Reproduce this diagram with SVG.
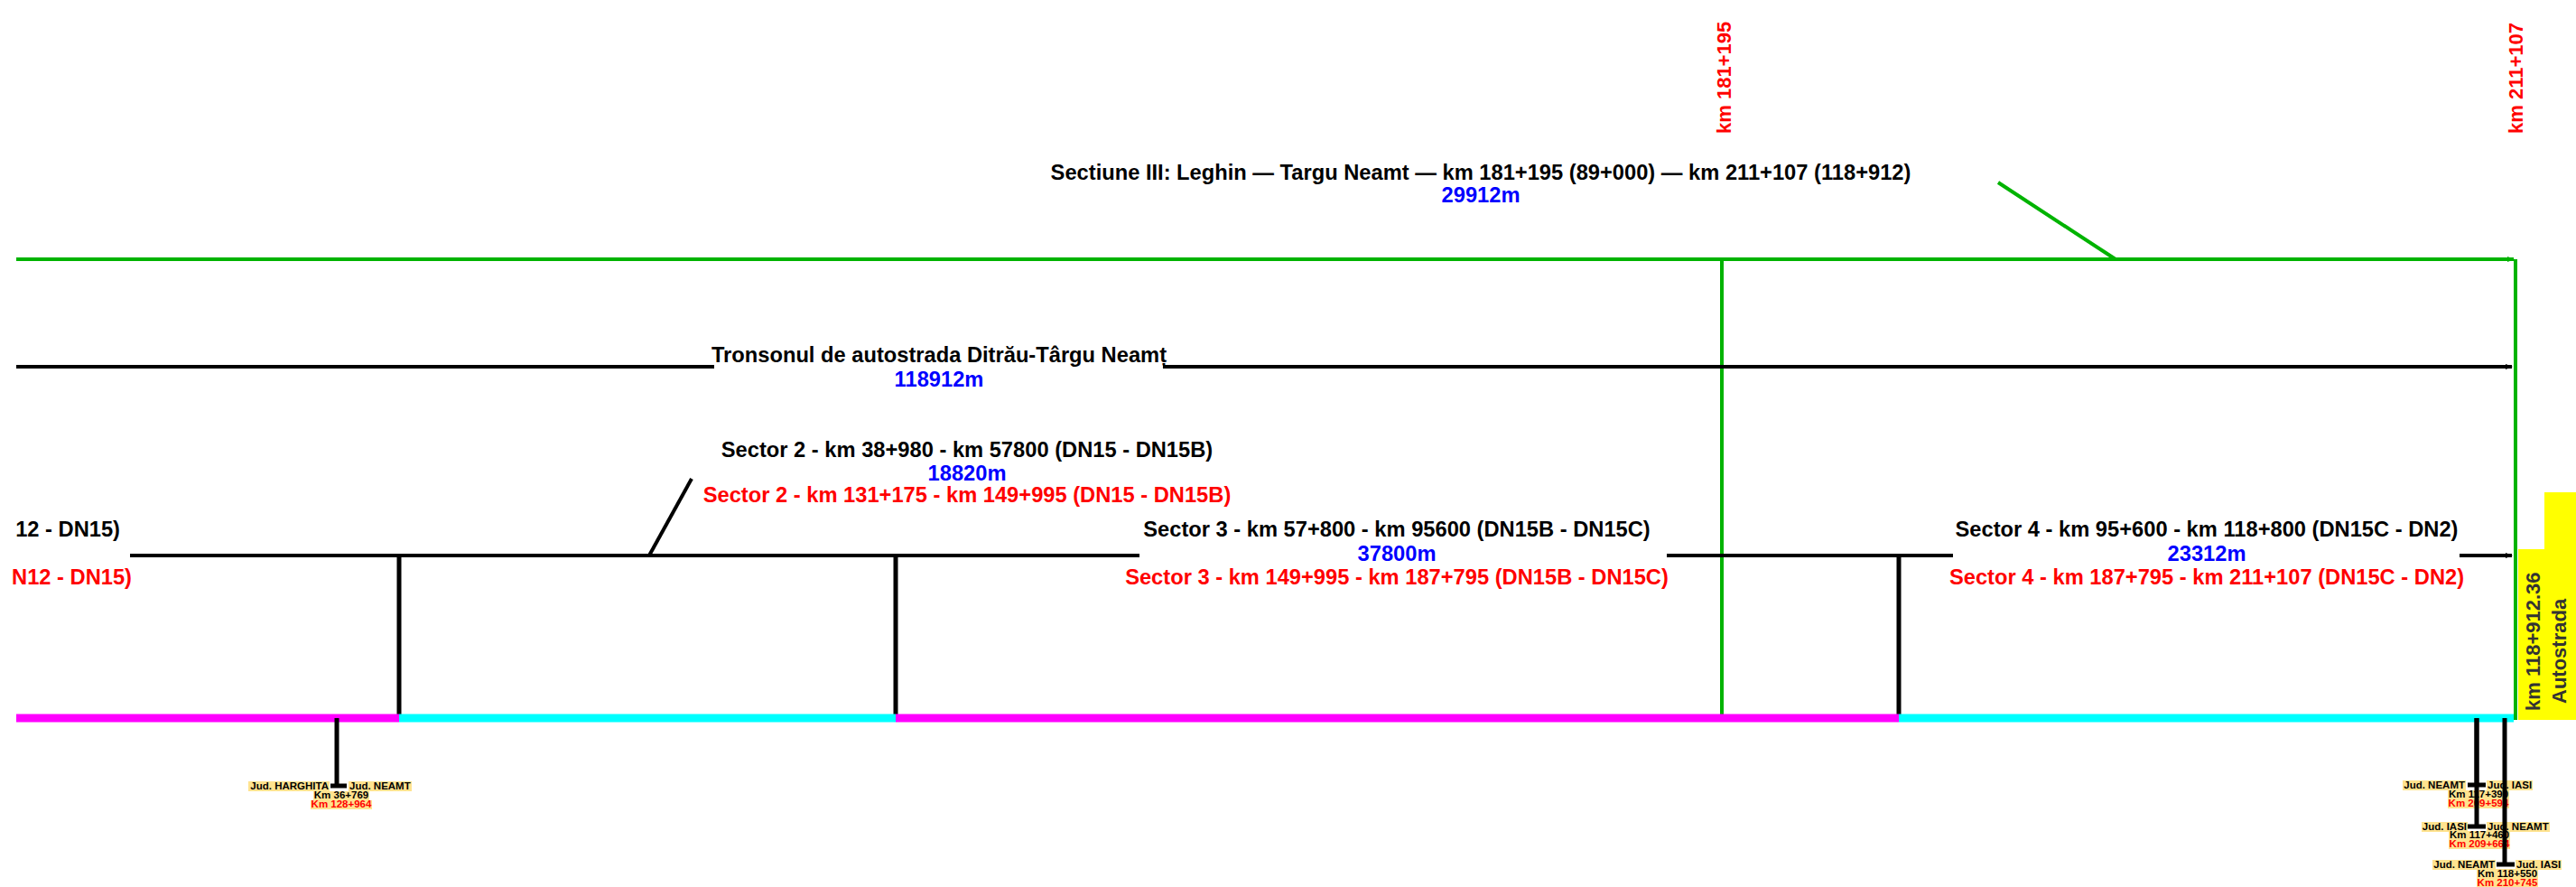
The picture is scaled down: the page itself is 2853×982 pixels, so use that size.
<svg xmlns="http://www.w3.org/2000/svg" width="2853" height="982" viewBox="0 0 2853 982">
<style>
.t{font-family:"Liberation Sans",Arial,sans-serif;font-weight:bold;font-size:23.7px;text-anchor:middle}
.k{fill:#000}.b{fill:#0000FF}.r{fill:#FF0000}
.km{font-family:"Liberation Sans",Arial,sans-serif;font-weight:bold;font-size:22px;fill:#FF0000}
.y{font-family:"Liberation Sans",Arial,sans-serif;font-weight:bold;font-size:22px;fill:#333}
.s{font-family:"Liberation Sans",Arial,sans-serif;font-weight:bold;font-size:11.5px}
.hl{fill:#FFE38F}
.g{stroke:#00B300;stroke-width:4;fill:none}
.bl{stroke:#000;stroke-width:4;fill:none}
.v{stroke:#000;stroke-width:5;fill:none}
</style>
<defs>
<marker id="ag" markerWidth="8" markerHeight="8" refX="7" refY="4" orient="auto" markerUnits="userSpaceOnUse"><path d="M0,1 L8,4 L0,7 z" fill="#00B300"/></marker>
<marker id="ak" markerWidth="8" markerHeight="8" refX="7" refY="4" orient="auto" markerUnits="userSpaceOnUse"><path d="M0,1 L8,4 L0,7 z" fill="#000"/></marker>
</defs>
<rect width="2853" height="982" fill="#fff"/>
<g id="connectors">
<path class="g" d="M18,287 H2784" marker-end="url(#ag)"/>
<path class="g" d="M1907,287 V795"/>
<path class="g" d="M2786,287 V797"/>
<path class="g" d="M2213,202 L2343,287"/>
<path class="bl" d="M18,406 H791"/>
<path class="bl" d="M1288,406 H2782" marker-end="url(#ak)"/>
<path class="bl" d="M144,615 H1262"/>
<path class="bl" d="M1846,615 H2163"/>
<path class="bl" d="M2724,615 H2782" marker-end="url(#ak)"/>
<path class="bl" d="M719,615 L766,530"/>
<path class="v" d="M442,615 V795"/>
<path class="v" d="M992,615 V795"/>
<path class="v" d="M2103,615 V795"/>
</g>
<g id="roadline">
<path d="M18,795 H442" stroke="#FF00FF" stroke-width="9"/>
<path d="M442,795 H992" stroke="#00FFFF" stroke-width="9"/>
<path d="M992,795 H2103" stroke="#FF00FF" stroke-width="9"/>
<path d="M2103,795 H2784" stroke="#00FFFF" stroke-width="9"/>
</g>
<g id="km181"><text class="km" transform="translate(1917,148) rotate(-90)">km 181+195</text></g>
<g id="km211"><text class="km" transform="translate(2794,148) rotate(-90)">km 211+107</text></g>
<g id="sectiune3">
<text class="t k" x="1640" y="199">Sectiune III: Leghin — Targu Neamt — km 181+195 (89+000) — km 211+107 (118+912)</text>
<text class="t b" x="1640" y="224">29912m</text>
</g>
<g id="tronson">
<text class="t k" x="1040" y="401">Tronsonul de autostrada Ditrău-Târgu Neamț</text>
<text class="t b" x="1040" y="428">118912m</text>
</g>
<g id="sector1">
<text class="t k" x="133" y="594" style="text-anchor:end">12 - DN15)</text>
<text class="t r" x="146" y="647" style="text-anchor:end">N12 - DN15)</text>
</g>
<g id="sector2">
<text class="t k" x="1071" y="506">Sector 2 - km 38+980 - km 57800 (DN15 - DN15B)</text>
<text class="t b" x="1071" y="532">18820m</text>
<text class="t r" x="1071" y="556">Sector 2 - km 131+175 - km 149+995 (DN15 - DN15B)</text>
</g>
<g id="sector3">
<text class="t k" x="1547" y="594">Sector 3 - km 57+800 - km 95600 (DN15B - DN15C)</text>
<text class="t b" x="1547" y="621">37800m</text>
<text class="t r" x="1547" y="647">Sector 3 - km 149+995 - km 187+795 (DN15B - DN15C)</text>
</g>
<g id="sector4">
<text class="t k" x="2444" y="594">Sector 4 - km 95+600 - km 118+800 (DN15C - DN2)</text>
<text class="t b" x="2444" y="621">23312m</text>
<text class="t r" x="2444" y="647">Sector 4 - km 187+795 - km 211+107 (DN15C - DN2)</text>
</g>
<g id="endlabel">
<rect x="2789" y="608" width="30" height="189" fill="#FFFF00"/>
<rect x="2818" y="545" width="35" height="252" fill="#FFFF00"/>
<text class="y" transform="translate(2813,787) rotate(-90)">km 118+912.36</text>
<text class="y" transform="translate(2842,779) rotate(-90)">Autostrada</text>
</g>
<g id="border1">
<path class="v" d="M373,795 V870 M366,870 H384"/>
<rect class="hl" x="275" y="865" width="90" height="11"/>
<rect class="hl" x="386" y="865" width="70" height="11"/>
<rect class="hl" x="347" y="876" width="62" height="10"/>
<rect class="hl" x="344" y="886" width="68" height="10"/>
<text class="s k" x="364" y="874" text-anchor="end">Jud. HARGHITA</text>
<text class="s k" x="387" y="874">Jud. NEAMT</text>
<text class="s k" x="378" y="884" text-anchor="middle">Km 36+769</text>
<text class="s r" x="378" y="894" text-anchor="middle">Km 128+964</text>
</g>
<g id="border2">
<path class="v" d="M2743,795 V869 M2733,869 H2753"/>
<rect class="hl" x="2661" y="864" width="70" height="11"/>
<rect class="hl" x="2754" y="864" width="51" height="11"/>
<rect class="hl" x="2711" y="875" width="68" height="10"/>
<rect class="hl" x="2711" y="885" width="68" height="10"/>
<text class="s k" x="2730" y="873" text-anchor="end">Jud. NEAMT</text>
<text class="s k" x="2755" y="873">Jud. IASI</text>
<text class="s k" x="2745" y="883" text-anchor="middle">Km 117+390</text>
<text class="s r" x="2745" y="893" text-anchor="middle">Km 209+594</text>
</g>
<g id="border3">
<path class="v" d="M2743,795 V915 M2733,915 H2753"/>
<rect class="hl" x="2682" y="910" width="51" height="11"/>
<rect class="hl" x="2754" y="910" width="70" height="11"/>
<rect class="hl" x="2712" y="920" width="68" height="10"/>
<rect class="hl" x="2712" y="930" width="68" height="10"/>
<text class="s k" x="2732" y="919" text-anchor="end">Jud. IASI</text>
<text class="s k" x="2755" y="919">Jud. NEAMT</text>
<text class="s k" x="2746" y="928" text-anchor="middle">Km 117+460</text>
<text class="s r" x="2746" y="938" text-anchor="middle">Km 209+664</text>
</g>
<g id="border4">
<path class="v" d="M2774,795 V957 M2765,957 H2785"/>
<rect class="hl" x="2694" y="952" width="70" height="11"/>
<rect class="hl" x="2786" y="952" width="51" height="11"/>
<rect class="hl" x="2743" y="962" width="68" height="10"/>
<rect class="hl" x="2743" y="972" width="68" height="10"/>
<text class="s k" x="2763" y="961" text-anchor="end">Jud. NEAMT</text>
<text class="s k" x="2787" y="961">Jud. IASI</text>
<text class="s k" x="2777" y="971" text-anchor="middle">Km 118+550</text>
<text class="s r" x="2777" y="981" text-anchor="middle">Km 210+745</text>
</g>
</svg>
